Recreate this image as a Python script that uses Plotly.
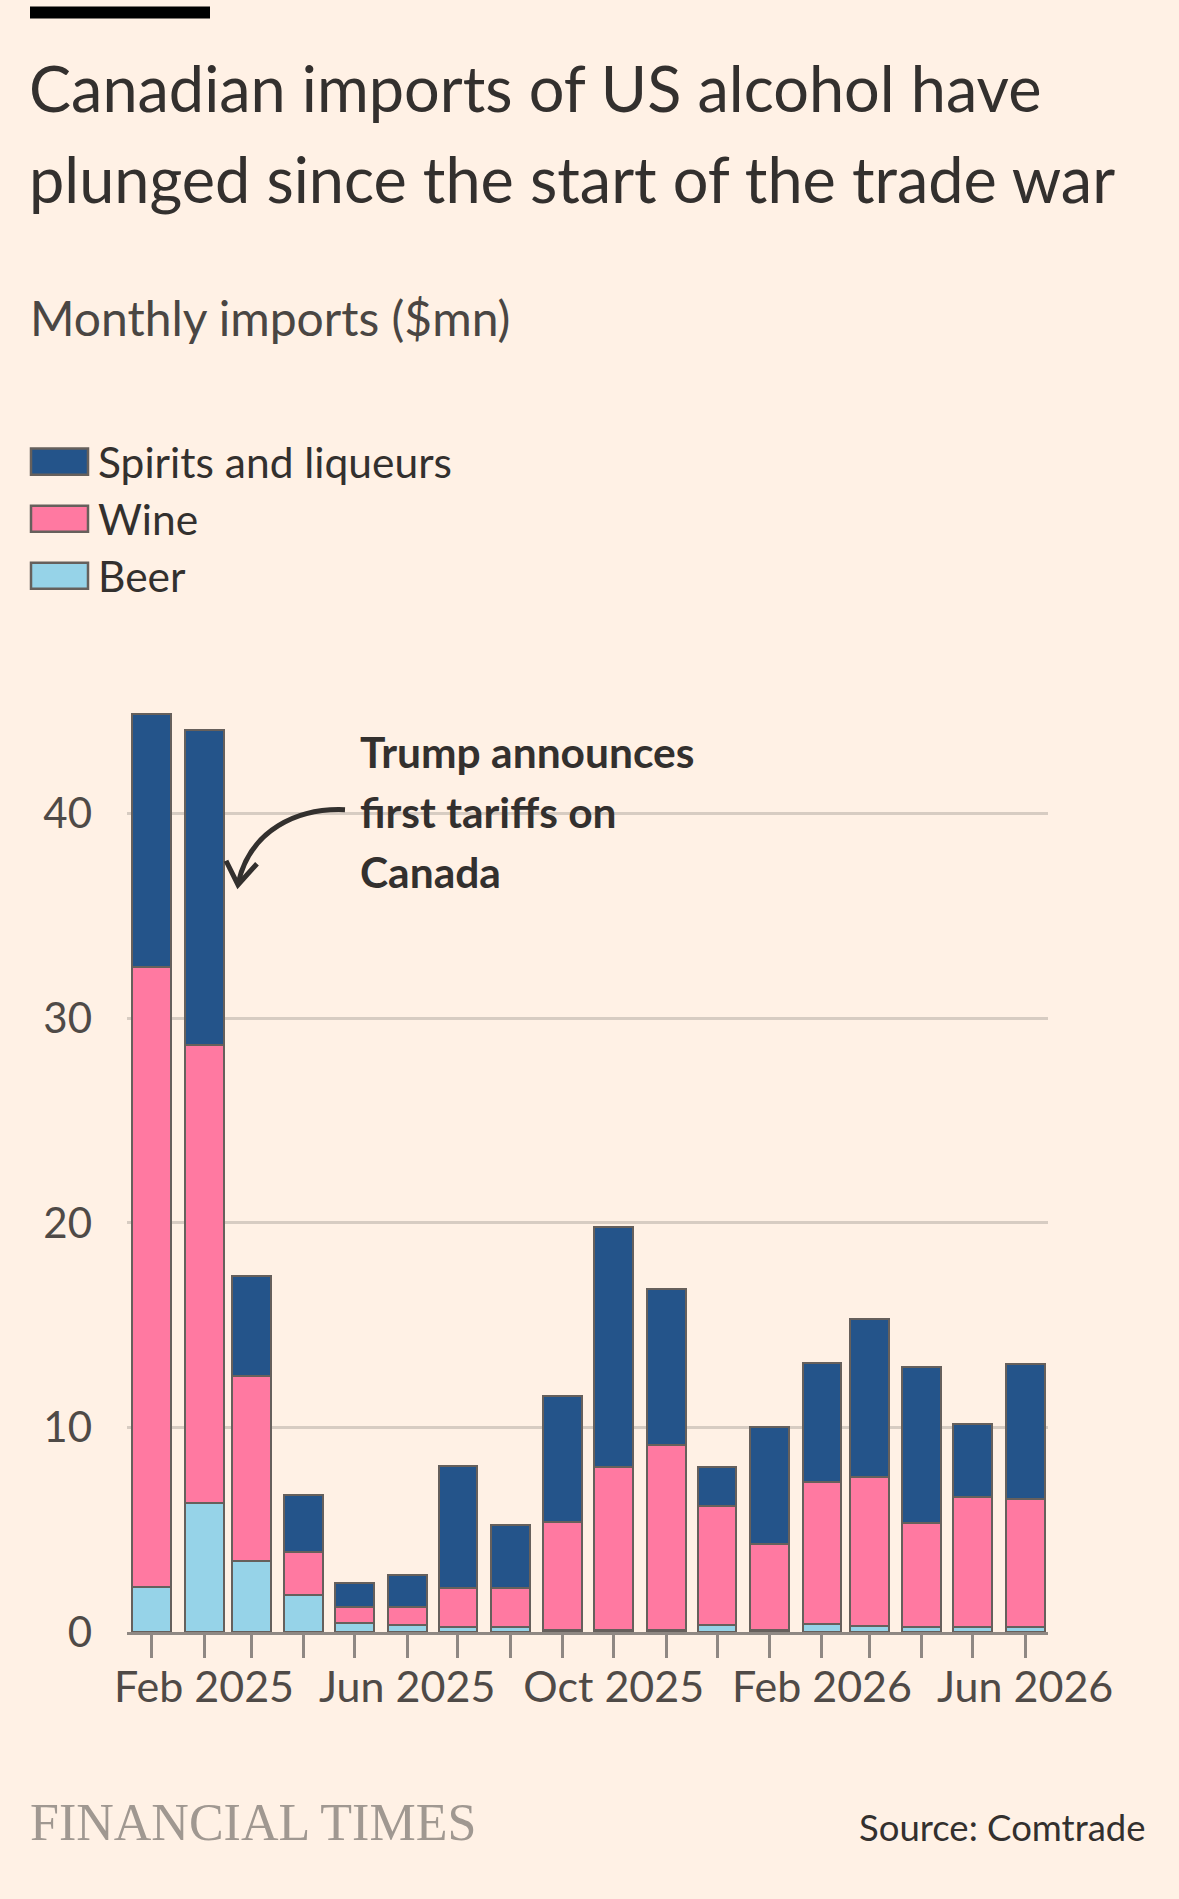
import plotly.graph_objects as go

# ---- data ----
months = ["2025-01-01", "2025-02-01", "2025-03-01", "2025-04-01", "2025-05-01", "2025-06-01",
          "2025-07-01", "2025-08-01", "2025-09-01", "2025-10-01", "2025-11-01", "2025-12-01",
          "2026-01-01", "2026-02-01", "2026-03-01", "2026-04-01", "2026-05-01", "2026-06-01"]
beer = [2.2, 6.3, 3.45, 1.8, 0.42, 0.34, 0.26, 0.24, 0.12, 0.12, 0.08, 0.33, 0.08, 0.39, 0.3, 0.24, 0.24, 0.24]
wine = [30.3, 22.4, 9.05, 2.13, 0.79, 0.87, 1.88, 1.9, 5.27, 7.93, 9.06, 5.83, 4.21, 6.93, 7.26, 5.07, 6.38, 6.25]
spirits = [12.4, 15.4, 4.9, 2.77, 1.2, 1.59, 5.98, 3.09, 6.17, 11.74, 7.62, 1.92, 5.75, 5.85, 7.74, 7.66, 3.54, 6.61]
series_names = ["Spirits and liqueurs", "Wine", "Beer"]
y_ticks = [0, 10, 20, 30, 40]

# ---- style ----
BG = "#fff1e5"
TEXT = "#33302e"
AXIS = "#4f4a47"
OUTLINE = "#66605c"
COLORS = {"Spirits and liqueurs": "#24548a", "Wine": "#ff79a1", "Beer": "#96d3e8"}
FONT = "Lato"

W, H = 1179, 1899
L, R = 127, 1048          # plot area in pixels
B = 1632                  # y=0 pixel
YMAX = 46
TOP = B - YMAX * 20.45

def pxx(x):
    return (x - L) / (R - L)

def pxy(y):
    return (B - y) / (B - TOP)

BAR_W = 23 * 86400000

fig = go.Figure()
for name, vals in [("Beer", beer), ("Wine", wine), ("Spirits and liqueurs", spirits)]:
    fig.add_trace(go.Bar(
        x=months, y=vals, name=name, width=BAR_W,
        marker=dict(color=COLORS[name], line=dict(color=OUTLINE, width=2.5)),
        showlegend=False,
    ))

shapes = []
annotations = []

# FT black bar at top
shapes.append(dict(type="rect", xref="paper", yref="paper",
                   x0=pxx(30), x1=pxx(210), y0=pxy(7), y1=pxy(19),
                   fillcolor="#000000", line=dict(width=0)))

# Title
for i, line in enumerate(["Canadian imports of US alcohol have",
                          "plunged since the start of the trade war"]):
    annotations.append(dict(text=line, xref="paper", yref="paper", x=pxx(27), y=pxy(88 + i * 91),
                            xanchor="left", yanchor="middle", showarrow=False,
                            font=dict(family=FONT, size=63, color=TEXT)))
# Subtitle
annotations.append(dict(text="Monthly imports ($mn)", xref="paper", yref="paper", x=pxx(28), y=pxy(318),
                        xanchor="left", yanchor="middle", showarrow=False,
                        font=dict(family=FONT, size=48, color="#4a4643")))

# Manual legend
for i, name in enumerate(series_names):
    yc = 462 + i * 57
    shapes.append(dict(type="rect", xref="paper", yref="paper",
                       x0=pxx(31), x1=pxx(88), y0=pxy(yc - 13), y1=pxy(yc + 13),
                       fillcolor=COLORS[name], line=dict(color=OUTLINE, width=2.5)))
    annotations.append(dict(text=name, xref="paper", yref="paper", x=pxx(96), y=pxy(yc),
                            xanchor="left", yanchor="middle", showarrow=False,
                            font=dict(family=FONT, size=42.5, color=TEXT)))

# Event annotation
for i, line in enumerate(["Trump announces", "first tariffs on", "Canada"]):
    annotations.append(dict(text="<b>" + line + "</b>", xref="paper", yref="paper",
                            x=pxx(358), y=pxy(752 + i * 60),
                            xanchor="left", yanchor="middle", showarrow=False,
                            font=dict(family=FONT, size=42.5, color=TEXT)))

# Curved arrow
p = lambda x, y: f"{pxx(x):.5f},{pxy(y):.5f}"
shapes.append(dict(type="path", xref="paper", yref="paper",
                   path=f"M {p(345, 810)} C {p(298, 808)} {p(250, 830)} {p(238, 884)}",
                   line=dict(color=TEXT, width=5)))
shapes.append(dict(type="path", xref="paper", yref="paper",
                   path=f"M {p(226, 861)} L {p(238, 885)} L {p(257, 864)}",
                   line=dict(color=TEXT, width=5)))

# Footer
annotations.append(dict(text="FINANCIAL TIMES", xref="paper", yref="paper", x=pxx(28), y=pxy(1822),
                        xanchor="left", yanchor="middle", showarrow=False,
                        font=dict(family="Liberation Serif", size=52, color="#a09891")))
annotations.append(dict(text="Source: Comtrade", xref="paper", yref="paper", x=pxx(1148), y=pxy(1827),
                        xanchor="right", yanchor="middle", showarrow=False,
                        font=dict(family=FONT, size=36.5, color=TEXT)))

fig.update_layout(
    width=W, height=H,
    paper_bgcolor=BG, plot_bgcolor=BG,
    barmode="stack", bargap=0,
    margin=dict(l=L, r=W - R, t=TOP, b=H - B, autoexpand=False),
    shapes=shapes, annotations=annotations,
    font=dict(family=FONT, color=AXIS),
)
fig.update_xaxes(
    type="date", range=["2024-12-17 12:00", "2026-06-14 12:00"],
    tick0="2025-02-01", dtick="M4", tickformat="%b %Y",
    ticks="outside", ticklen=23, tickwidth=2.5, tickcolor="#8f8883",
    tickfont=dict(family=FONT, size=43, color=AXIS),
    ticklabelstandoff=-8,
    minor=dict(tick0="2025-01-01", dtick="M1", ticks="outside", ticklen=23, tickwidth=2.5,
               tickcolor="#8f8883", showgrid=False),
    showline=True, linecolor="#8f8883", linewidth=3,
    showgrid=False, zeroline=False, fixedrange=True,
)
fig.update_yaxes(
    range=[0, YMAX], tickvals=y_ticks, ticks="",
    tickfont=dict(family=FONT, size=42, color=AXIS),
    ticklabelstandoff=34,
    showgrid=True, gridcolor="#d7ccc2", gridwidth=2.5,
    zeroline=False, showline=False, fixedrange=True,
)

fig.write_html("out.html", config={"displayModeBar": False},
               post_script="document.body.style.margin='0';")
